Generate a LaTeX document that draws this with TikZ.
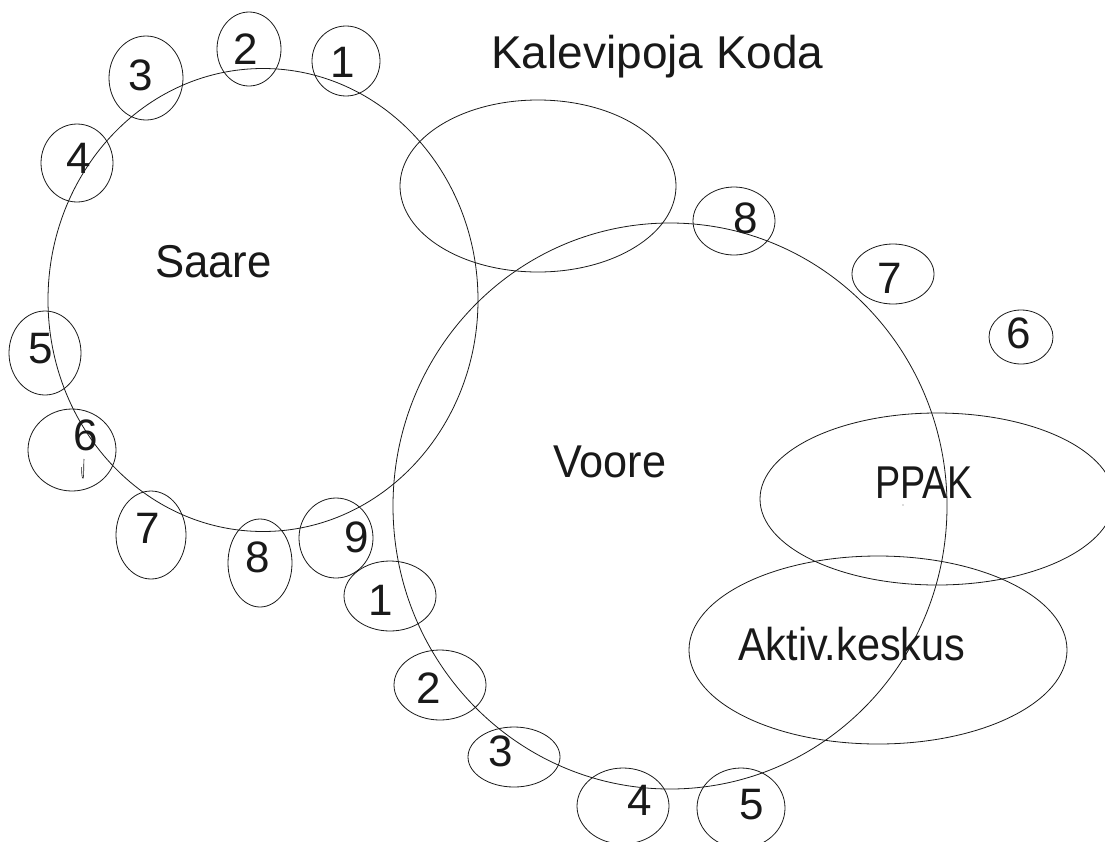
\documentclass[tikz,border=0pt]{standalone}
\usepackage{fontspec}
\setmainfont{Liberation Sans}
\begin{document}
\begin{tikzpicture}[x=1pt,y=-1pt]
\tikzset{
  ring/.style={draw=black!90, line width=0.8pt},
  lab/.style={font=\fontsize{46}{46}\selectfont, inner sep=0pt, anchor=base west, text=black!90},
  num/.style={font=\fontsize{44}{44}\selectfont, inner sep=0pt, anchor=base, text=black!90}
}
\useasboundingbox (0,0) rectangle (1105,841);
\clip (0,0) rectangle (1105,841);
% big shapes
\draw[ring] (263,300) ellipse [x radius=215, y radius=231.5];
\draw[ring] (670,506) ellipse [x radius=277, y radius=283];
\draw[ring] (538,186) ellipse [x radius=138, y radius=86];
\draw[ring] (937,499) ellipse [x radius=177, y radius=86];
\draw[ring] (878,650) ellipse [x radius=189, y radius=94];
% small ellipses, Saare ring
\draw[ring] (346,61) ellipse [x radius=34, y radius=35];
\draw[ring] (249,49) ellipse [x radius=32, y radius=37];
\draw[ring] (146,78) ellipse [x radius=37, y radius=42];
\draw[ring] (77,163) ellipse [x radius=36, y radius=39];
\draw[ring] (45,353) ellipse [x radius=36, y radius=42];
\draw[ring] (72,450) ellipse [x radius=44, y radius=41];
\draw[ring] (151,535) ellipse [x radius=35, y radius=44];
\draw[ring] (260,563) ellipse [x radius=32, y radius=44];
\draw[ring] (336,538) ellipse [x radius=37, y radius=40];
% small ellipses, Voore ring
\draw[ring] (390,596) ellipse [x radius=46, y radius=35];
\draw[ring] (440,685) ellipse [x radius=46, y radius=35];
\draw[ring] (514,757) ellipse [x radius=46, y radius=30];
\draw[ring] (623,806) ellipse [x radius=46, y radius=38];
\draw[ring] (741,808) ellipse [x radius=44, y radius=40];
\draw[ring] (1021,337) ellipse [x radius=32, y radius=27];
\draw[ring] (893,274) ellipse [x radius=41, y radius=30];
\draw[ring] (734,221) ellipse [x radius=41, y radius=34];
% small stray mark
\draw[black!90, line width=0.6pt] (84,459) .. controls (83.5,466) and (84,474) .. (83.3,478) .. controls (82.5,479) and (81.5,477) .. (81.7,467);
\fill[black!60] (903,505) circle [radius=0.6];
% labels
\node[lab] (kk) at (491,68) {Kalevipoja Koda};
\node[lab] (saare) at (155,277) {\scalebox{0.95}[1]{Saare}};
\node[lab] (voore) at (553,477) {\scalebox{0.94}[1]{Voore}};
\node[lab] (ppak) at (875,498) {\scalebox{0.82}[1]{PPAK}};
\node[lab] (aktiv) at (738,660) {\scalebox{0.9}[1]{Aktiv.keskus}};
% digits Saare
\node[num] (s1) at (343,77) {1};
\node[num] (s2) at (246,64) {2};
\node[num] (s3) at (141,90) {3};
\node[num] (s4) at (79,173) {4};
\node[num] (s5) at (41,363) {5};
\node[num] (s6) at (86,450) {6};
\node[num] (s7) at (148,543) {7};
\node[num] (s8) at (258,572) {8};
\node[num] (s9) at (357,552) {9};
% digits Voore
\node[num] (v1) at (381,615) {1};
\node[num] (v2) at (429,703) {2};
\node[num] (v3) at (501,766) {3};
\node[num] (v4) at (640,815) {4};
\node[num] (v5) at (752,819) {5};
\node[num] (v6) at (1019,348) {6};
\node[num] (v7) at (890,293) {7};
\node[num] (v8) at (746,233) {8};
\end{tikzpicture}
\end{document}
